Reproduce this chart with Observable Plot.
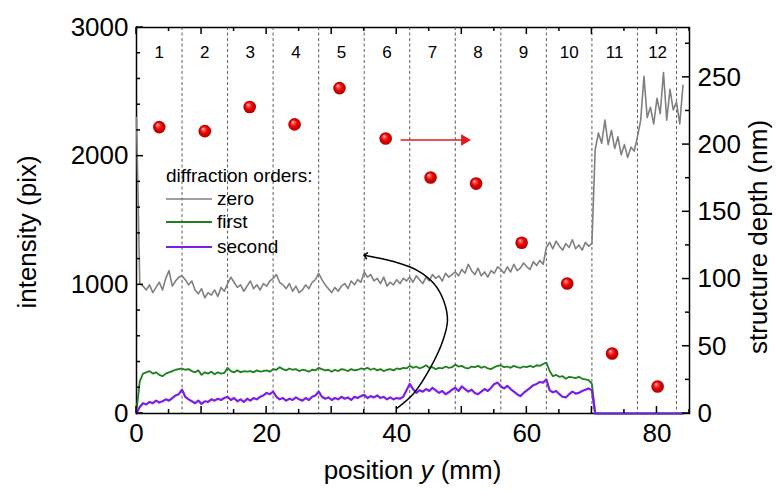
<!DOCTYPE html>
<html><head><meta charset="utf-8">
<script src="https://cdn.jsdelivr.net/npm/d3@7"></script>
<script src="https://cdn.jsdelivr.net/npm/@observablehq/plot@0.6"></script>
<style>body{margin:0;background:#fff}</style>
</head><body><div id="chart"></div>
<script>
// sampling step of the measured profiles (mm)
const step = 0.5;
// zero diffraction order (pix), from y = 0 mm in 0.5 mm steps
const zeroOrder = [
  2300,1010,990,960,1000,940,980,1020,960,1050,1110,990,1030,1060,
  1070,1040,1000,1030,960,930,970,900,940,920,960,910,980,950,
  1010,1060,1020,980,1000,950,990,1030,970,1000,960,1010,990,1030,
  1050,1080,1020,1000,970,1010,950,990,940,960,1000,970,1020,1040,
  1090,1040,1000,970,940,980,950,990,1010,970,1030,1000,1040,1020,
  1100,1060,1080,1030,1050,1010,1060,990,1020,1000,1040,1010,1050,1030,
  1060,1020,1070,1040,1010,1060,1030,1080,1050,1070,1030,1090,1060,1080,
  1100,1070,1120,1090,1160,1110,1080,1130,1070,1100,1060,1110,1090,1140,
  1120,1090,1140,1100,1160,1110,1130,1170,1140,1120,1180,1150,1190,1160,
  1290,1330,1280,1340,1300,1270,1320,1290,1350,1280,1310,1270,1330,1300,
  1320,2050,2180,2100,2280,2090,2200,2060,2150,2010,2090,1990,2070,2040,
  2150,2280,2620,2300,2380,2250,2450,2330,2650,2280,2520,2360,2420,2250,2550
];
// first diffraction order (pix)
const firstOrder = [
  20,250,310,320,330,310,320,300,290,310,320,330,340,345,
  350,340,345,330,320,335,300,320,310,325,305,320,310,315,
  355,330,320,335,320,330,325,330,320,335,325,330,335,325,
  345,340,360,345,335,350,340,345,330,340,335,325,340,335,
  355,345,335,340,325,340,330,345,340,330,345,335,340,350,
  345,355,340,350,335,345,330,340,345,335,350,345,355,350,
  370,355,365,350,360,375,355,360,345,355,350,365,355,360,
  380,365,370,355,350,365,360,370,355,365,350,345,360,370,
  375,360,365,355,370,360,355,365,360,370,360,375,370,385,
  395,330,290,300,285,290,270,285,280,275,285,270,265,260,
  230,0,0,0,0,0,0,0,0,0,0,0,0,0,
  0,0,0,0,0,0,0,0,0,0,0,0,0,0,0
];
// second diffraction order (pix)
const secondOrder = [
  0,50,80,70,90,80,100,85,95,110,100,120,140,150,
  185,130,110,95,80,100,75,95,90,110,100,115,105,120,
  130,105,120,95,110,90,115,100,120,110,130,140,160,150,
  170,130,110,120,100,115,105,125,110,100,120,105,130,140,
  170,130,115,125,105,120,110,130,115,125,105,130,120,135,
  145,120,135,125,140,120,130,110,125,110,120,115,130,180,
  230,190,160,180,170,190,175,200,180,160,175,150,165,185,
  200,175,210,190,170,185,160,150,170,190,175,200,230,240,
  210,195,215,190,170,150,135,160,180,200,220,230,245,240,
  265,180,165,175,150,130,125,150,170,155,160,175,185,195,
  180,0,0,0,0,0,0,0,0,0,0,0,0,0,
  0,0,0,0,0,0,0,0,0,0,0,0,0,0,0
];
// structure depth per field (nm, right axis)
const fieldLabels = ["1","2","3","4","5","6","7","8","9","10","11","12"];
const fieldCenters = [3.5,10.5,17.4,24.3,31.2,38.3,45.2,52.2,59.2,66.2,73.1,80.1];
const depthNm = [213,210,228,215,242,204.5,175.5,171,127,96.7,44.6,20.1];
const labelCenters = [3.5,10.5,17.5,24.5,31.5,38.5,45.5,52.5,59.5,66.5,73.5,80.1];
const fieldBoundaries = [7,14,21,28,35,42,49,56,63,70,77,83];
// axis ticks
const leftMajor = [0,1000,2000,3000];
const leftMinor = [200,400,600,800,1200,1400,1600,1800,2200,2400,2600,2800];
const rightMajor = [0,50,100,150,200,250];
const rightMinor = [25,75,125,175,225,275];
const xLabels = [0,20,40,60,80];
const xMajor = [0,10,20,30,40,50,60,70,80];
const xMinor = [5,15,25,35,45,55,65,75,85];
// ratio between right (nm) and left (pix) axes
const nmToPix = 10.45;
// annotations
const redArrow = {x1: 40.6, x2: 50.4, nm: 203.4};
const curveX = [40.0,42.6,45.2,47.1,47.8,47.2,45.7,43.2,39.5,35.2];
const curveY = [39,155,358,567,723,878,1010,1111,1181,1228];
const legendItems = ["zero","first","second"];
const colors = {zero: "#808080", first: "#1e801e", second: "#7b1fe8"};

const W = 776, H = 490, mL = 136, mR = 87, mT = 27, mB = 77;
const xDomain = [0, 85], yDomain = [0, 3000];
const rows = (arr) => arr.map((v, i) => ({x: i * step, v}));
const depthRows = depthNm.map((d, i) => ({x: fieldCenters[i], y: d * nmToPix}));
const labelRows = fieldLabels.map((t, i) => ({x: labelCenters[i], t}));
const curveRows = curveX.map((x, i) => ({x, y: curveY[i]}));

const chart = Plot.plot({
  width: W, height: H,
  marginLeft: mL, marginRight: mR, marginTop: mT, marginBottom: mB,
  x: {domain: xDomain},
  y: {domain: yDomain},
  style: {fontFamily: "'Liberation Sans', Arial, sans-serif", fontSize: "26px", color: "#000", background: "#fff", overflow: "visible"},
  marks: [
    Plot.frame({stroke: "black", strokeWidth: 1.5}),
    Plot.ruleX(fieldBoundaries, {stroke: "#333", strokeWidth: 0.8, strokeDasharray: "3,2.5"}),
    Plot.line(rows(zeroOrder), {x: "x", y: "v", stroke: colors.zero, strokeWidth: 1.6}),
    Plot.line(rows(firstOrder), {x: "x", y: "v", stroke: colors.first, strokeWidth: 1.8}),
    Plot.line(rows(secondOrder), {x: "x", y: "v", stroke: colors.second, strokeWidth: 2.2}),
    Plot.dot(depthRows, {x: "x", y: "y", r: 6.3, fill: "url(#ball)"}),
    Plot.text(labelRows, {x: "x", y: () => 2805, text: "t", fontSize: 17, lineAnchor: "middle"}),
    Plot.link([redArrow], {x1: "x1", x2: "x2", y1: d => d.nm * nmToPix, y2: d => d.nm * nmToPix, stroke: "#e01a1a", strokeWidth: 1.6}),
    Plot.dot([redArrow], {x: "x2", y: d => d.nm * nmToPix, symbol: "triangle", rotate: 90, r: 4.2, fill: "#e01a1a"}),
    Plot.line(curveRows, {x: "x", y: "y", curve: "catmull-rom", stroke: "black", strokeWidth: 1.5, markerEnd: "arrow"}),
    // tick labels
    Plot.axisY(leftMajor, {anchor: "left", tickSize: 0, tickPadding: 8, fontSize: 26, tickFormat: d => String(d), label: null}),
    Plot.axisY(rightMajor.map(v => v * nmToPix), {anchor: "right", tickSize: 0, tickPadding: 8, fontSize: 26, tickFormat: d => String(Math.round(d / nmToPix)), label: null}),
    Plot.axisX(xLabels, {anchor: "bottom", tickSize: 0, tickPadding: 10, fontSize: 26, tickFormat: d => String(d), label: null})
  ]
});

const svg = d3.select(chart);
const xs = chart.scale("x"), ys = chart.scale("y");
// inward ticks on all four sides, positioned through the chart's own scales
const tg = svg.append("g").attr("stroke", "#000").attr("stroke-width", 1.5);
const x0 = xs.apply(xDomain[0]), x1 = xs.apply(xDomain[1]);
const y0 = ys.apply(yDomain[0]), y1 = ys.apply(yDomain[1]);
const tickH = (vals, len) => vals.forEach(v => {
  const y = ys.apply(v);
  tg.append("line").attr("x1", x0).attr("x2", x0 + len).attr("y1", y).attr("y2", y);
});
const tickR = (vals, len) => vals.forEach(v => {
  const y = ys.apply(v * nmToPix);
  tg.append("line").attr("x1", x1).attr("x2", x1 - len).attr("y1", y).attr("y2", y);
});
const tickV = (vals, len) => vals.forEach(v => {
  const x = xs.apply(v);
  tg.append("line").attr("x1", x).attr("x2", x).attr("y1", y0).attr("y2", y0 - len);
  tg.append("line").attr("x1", x).attr("x2", x).attr("y1", y1).attr("y2", y1 + len);
});
tickH(leftMajor, 7); tickH(leftMinor, 4);
tickR(rightMajor, 7); tickR(rightMinor, 4);
tickV(xMajor, 7); tickV(xMinor, 4);

const defs = svg.insert("defs", ":first-child");
const grad = defs.append("radialGradient").attr("id", "ball")
  .attr("cx", "50%").attr("cy", "50%").attr("r", "50%").attr("fx", "35%").attr("fy", "30%");
[["0%", "#ffe6e6"], ["22%", "#ff5a5a"], ["55%", "#ee0000"], ["100%", "#a80000"]]
  .forEach(([o, c]) => grad.append("stop").attr("offset", o).attr("stop-color", c));

const font = "'Liberation Sans', Arial, sans-serif";
// axis titles
svg.append("text").attr("transform", "translate(36,232) rotate(-90)")
  .attr("text-anchor", "middle").attr("font-family", font).attr("font-size", 26).attr("fill", "#000")
  .text("intensity (pix)");
svg.append("text").attr("transform", "translate(767,237) rotate(-90)")
  .attr("text-anchor", "middle").attr("font-family", font).attr("font-size", 26).attr("fill", "#000")
  .text("structure depth (nm)");
const xt = svg.append("text").attr("x", 412.5).attr("y", 479)
  .attr("text-anchor", "middle").attr("font-family", font).attr("font-size", 26).attr("fill", "#000");
xt.append("tspan").text("position ");
xt.append("tspan").attr("font-style", "italic").text("y");
xt.append("tspan").text(" (mm)");

// legend
const lg = svg.append("g").attr("font-family", font).attr("font-size", 19).attr("fill", "#000").attr("text-anchor", "start");
lg.append("text").attr("x", 166).attr("y", 182).text("diffraction orders:");
const legendY = [199, 222, 247];
legendItems.forEach((name, i) => {
  lg.append("line").attr("x1", 166).attr("x2", 212).attr("y1", legendY[i]).attr("y2", legendY[i])
    .attr("stroke", colors[name]).attr("stroke-width", name === "zero" ? 1.6 : 2.2);
  lg.append("text").attr("x", 217).attr("y", legendY[i] + 6).text(name);
});

document.getElementById("chart").appendChild(chart);
</script>
</body></html>
